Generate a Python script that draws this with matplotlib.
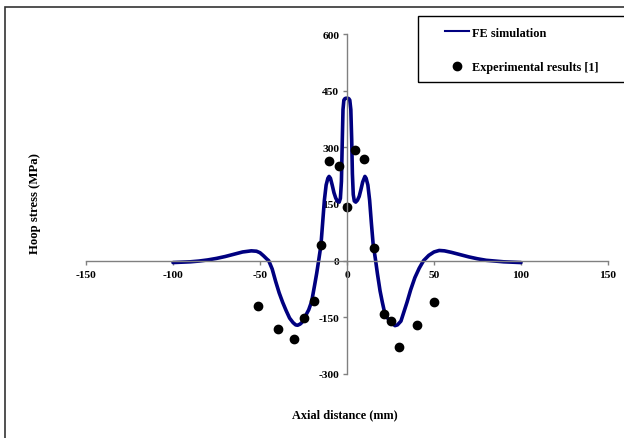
import numpy as np
import matplotlib
matplotlib.use('Agg')
from matplotlib import pyplot as plt
from matplotlib.patches import Rectangle
from matplotlib.lines import Line2D

plt.rcParams['font.family'] = 'Liberation Serif'
plt.rcParams['font.weight'] = 'bold'
plt.rcParams['axes.unicode_minus'] = False

# FE hoop stress along the axial direction
fe_x = [-100, -95, -90, -85, -80, -75, -70, -65, -60, -55, -52, -50, -48, -46, -45,
        -43, -41, -39, -37, -35, -33, -31, -29.5, -28.4, -27, -26, -24.5, -22, -20.3,
        -18.5, -17.4, -16.3, -15, -14, -13, -12, -11, -10.3, -9.5, -8.5, -7.5, -6.5,
        -5.5, -4.5, -3.8, -3.2, -2.7, -2.3, -1.8, -1.2, -0.5, 0.3, 1.0, 1.6, 2.2,
        2.7, 3.1, 3.6, 4.2, 5.0, 6.0, 7.0, 8.0, 9.0, 10.3, 11, 12, 13, 14, 15,
        16.3, 17.5, 19, 20.3, 21.5, 23, 25, 26.5, 27.6, 29, 31, 32.4, 34.5, 36.6,
        39, 41.5, 44, 47, 50, 53, 56, 60, 65, 70, 75, 80, 85, 90, 95, 100]
fe_y = [-5, -4, -3, -1, 2, 6, 11, 17, 23, 26, 25, 21, 13, 4, 0,
        -22, -55, -85, -110, -132, -152, -164, -170, -171, -168, -164, -152, -130, -108,
        -62, -33, 0, 40, 100, 160, 200, 218, 223, 218, 200, 180, 166,
        157, 155, 165, 210, 320, 400, 425, 429, 430, 430, 429, 425, 400,
        320, 230, 175, 158, 155, 160, 170, 188, 208, 223, 218, 200, 160, 100, 45,
        5, -35, -80, -110, -135, -150, -162, -168, -172, -170, -160, -140, -110, -77,
        -45, -20, 0, 14, 23, 27, 26, 22, 16, 10, 5, 1, -1, -3, -4, -5]

# measured hoop stress
exp_x = [-51.2, -39.8, -30.4, -24.5, -19.2, -15.1, -10.1, -4.8, -0.2, 4.8, 9.6,
         15.3, 21.5, 25.2, 29.9, 40.2, 50.1]
exp_y = [-119, -182, -208, -152, -108, 42, 265, 250, 142, 292, 269,
         34, -140, -161, -228, -171, -110]

xticks = [-150, -100, -50, 0, 50, 100, 150]
yticks = [-300, -150, 0, 150, 300, 450, 600]

W, H = 624, 439
fig = plt.figure(figsize=(W / 100, H / 100), dpi=100)
ax = fig.add_axes([86 / W, 1 - 375 / H, (608 - 86) / W, (375 - 35) / H])

ax.plot(fe_x, fe_y, color='#000080', lw=2.6, solid_joinstyle='round',
        solid_capstyle='round')
dots, = ax.plot(exp_x, exp_y, 'o', color='black', ms=6, ls='none')

ax.set_xlim(-150, 150)
ax.set_ylim(-300, 600)
ax.set_xticks(xticks)
ax.set_yticks(yticks)

for s in ['top', 'right']:
    ax.spines[s].set_visible(False)
for s in ['left', 'bottom']:
    ax.spines[s].set_position(('data', 0))
    ax.spines[s].set_color('#808080')
    ax.spines[s].set_linewidth(1.0)
ax.tick_params(direction='out', length=3, width=1.0, color='#808080',
               labelsize=8.2, pad=2.5)
ax.tick_params(axis='x', pad=3.5)
for lbl in ax.get_xticklabels() + ax.get_yticklabels():
    lbl.set_fontweight('bold')

fig.text(35 / W, 1 - 204 / H, 'Hoop stress (MPa)', rotation=90,
         ha='center', va='center', fontsize=9.2, fontweight='bold')
fig.text(345 / W, 1 - 415 / H, 'Axial distance (mm)',
         ha='center', va='center', fontsize=8.8, fontweight='bold')

# outer chart border and legend box
fig.patches.append(Rectangle((5 / W, -0.1), 1.2, 1.1 - 8 / H, transform=fig.transFigure,
                             fill=False, ec='#333333', lw=1.2))
fig.patches.append(Rectangle((418 / W, 1 - 83 / H), 0.5, 66 / H, transform=fig.transFigure,
                             fill=False, ec='black', lw=1.0))
fe_handle = Line2D([], [], color='#000080', lw=1.5)
fig.legend([fe_handle, dots], ['FE simulation', 'Experimental results [1]'],
           loc='upper left', bbox_to_anchor=(445 / W, 1 - 27.5 / H), frameon=False,
           borderpad=0, borderaxespad=0, handlelength=2.0, handletextpad=0.2,
           labelspacing=1.85, prop={'size': 8.8, 'weight': 'bold'})

fig.savefig('out.png', dpi=100)
